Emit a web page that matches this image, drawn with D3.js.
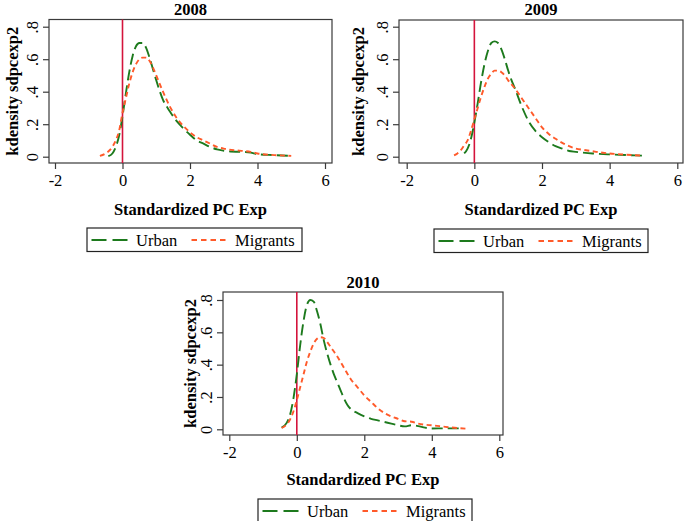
<!DOCTYPE html>
<html><head><meta charset="utf-8">
<script src="https://cdn.jsdelivr.net/npm/d3@7"></script>
<style>
html,body{margin:0;padding:0;background:#fff;}
</style></head>
<body>
<svg id="chart" width="685" height="521" font-family="Liberation Serif"></svg>
<script>
// ---- data ----
const years = ["2008", "2009", "2010"];
const seriesNames = ["Urban", "Migrants"];
const xTicks = [-2, 0, 2, 4, 6];
const yTicks = [0, 0.2, 0.4, 0.6, 0.8];
const yTickLabels = ["0", ".2", ".4", ".6", ".8"];
const xTitle = "Standardized PC Exp";
const yTitle = "kdensity sdpcexp2";

const urban2008X = [-0.42,-0.3,-0.2,-0.1,0,0.1,0.2,0.3,0.4,0.5,0.6,0.7,0.8,0.9,1.0,1.2,1.4,1.6,1.8,2.0,2.2,2.4,2.6,2.8,3.0,3.2,3.5,3.8,4.0,4.5,5.0];
const urban2008Y = [0.003,0.02,0.06,0.13,0.25,0.39,0.52,0.62,0.68,0.70,0.70,0.67,0.61,0.54,0.47,0.35,0.28,0.22,0.175,0.135,0.10,0.08,0.06,0.045,0.037,0.032,0.03,0.025,0.015,0.01,0.005];
const migr2008X = [-0.67,-0.5,-0.3,-0.2,-0.1,0,0.1,0.2,0.3,0.4,0.5,0.6,0.7,0.8,0.9,1.0,1.2,1.4,1.6,1.8,2.0,2.2,2.4,2.6,2.8,3.0,3.3,3.6,3.8,4.0,4.5,5.0];
const migr2008Y = [0.005,0.02,0.06,0.10,0.16,0.27,0.36,0.45,0.52,0.57,0.60,0.61,0.61,0.59,0.55,0.50,0.40,0.31,0.24,0.19,0.15,0.12,0.10,0.08,0.06,0.05,0.04,0.035,0.03,0.02,0.01,0.005];

const urban2009X = [-0.3,-0.2,-0.1,0,0.1,0.2,0.3,0.4,0.5,0.6,0.7,0.8,0.9,1.0,1.1,1.2,1.4,1.6,1.8,2.0,2.2,2.4,2.6,2.8,3.0,3.5,4.0,4.5,5.0];
const urban2009Y = [0.02,0.05,0.11,0.21,0.33,0.46,0.57,0.65,0.70,0.71,0.70,0.66,0.60,0.53,0.47,0.42,0.31,0.22,0.16,0.12,0.09,0.065,0.05,0.035,0.03,0.02,0.014,0.01,0.006];
const migr2009X = [-0.6,-0.5,-0.4,-0.3,-0.2,-0.1,0,0.1,0.2,0.3,0.4,0.5,0.6,0.7,0.8,0.9,1.0,1.2,1.4,1.6,1.8,2.0,2.2,2.4,2.6,2.8,3.0,3.3,3.6,4.0,4.5,5.0];
const migr2009Y = [0.008,0.02,0.04,0.07,0.10,0.16,0.23,0.30,0.37,0.43,0.48,0.51,0.53,0.53,0.52,0.50,0.47,0.42,0.36,0.30,0.24,0.18,0.14,0.11,0.085,0.065,0.05,0.04,0.03,0.02,0.012,0.006];

const urban2010X = [-0.45,-0.3,-0.2,-0.1,0,0.1,0.2,0.3,0.4,0.5,0.6,0.7,0.8,0.9,1.0,1.1,1.2,1.3,1.4,1.5,1.6,1.8,2.0,2.2,2.4,2.6,2.8,3.0,3.2,3.4,3.6,3.8,4.0,4.4,4.8];
const urban2010Y = [0.01,0.04,0.09,0.19,0.34,0.52,0.67,0.77,0.80,0.79,0.73,0.65,0.55,0.47,0.40,0.34,0.29,0.24,0.19,0.15,0.125,0.10,0.08,0.065,0.055,0.045,0.035,0.025,0.018,0.025,0.02,0.01,0.005,0.006,0.006];
const migr2010X = [-0.45,-0.3,-0.2,-0.1,0,0.1,0.2,0.3,0.4,0.5,0.6,0.7,0.8,0.9,1.0,1.2,1.4,1.6,1.8,2.0,2.2,2.4,2.6,2.8,3.0,3.2,3.4,3.6,3.8,4.0,4.4,5.0];
const migr2010Y = [0.008,0.03,0.06,0.11,0.18,0.26,0.34,0.42,0.48,0.53,0.56,0.57,0.565,0.54,0.51,0.45,0.38,0.31,0.26,0.21,0.17,0.13,0.10,0.08,0.065,0.05,0.047,0.035,0.028,0.025,0.015,0.004];

const seriesX = {"2008":[urban2008X, migr2008X], "2009":[urban2009X, migr2009X], "2010":[urban2010X, migr2010X]};
const seriesY = {"2008":[urban2008Y, migr2008Y], "2009":[urban2009Y, migr2009Y], "2010":[urban2010Y, migr2010Y]};

// ---- styles / layout ----
const FONT = "Liberation Serif";
const TEXT = "#000";
const colors = ["#1d7a1d", "#ff5a2a"];
const dashes = ["11,5", "5,3.5"];
const refColor = "#d4143c";
const panels = [
  {left:49,  right:332, top:19.5, bottom:163, x0:55,    x1:325,   y0:156.7, y1:26.7, titleY:15,  xTitleY:215, yTitleX:18,  legTop:228, legLeft:87,  legW:215},
  {left:399, right:683, top:20,   bottom:163, x0:406.7, x1:677.3, y0:156.7, y1:26.7, titleY:15,  xTitleY:215, yTitleX:364, legTop:229, legLeft:434, legW:214},
  {left:223, right:503, top:292,  bottom:435, x0:229.3, x1:499.3, y0:429.3, y1:300,  titleY:288, xTitleY:485, yTitleX:196, legTop:499, legLeft:258, legW:214}
];

const svg = d3.select("#chart");

years.forEach((yr, i) => {
  const p = panels[i];
  const g = svg.append("g");
  const x = d3.scaleLinear().domain([-2, 6]).range([p.x0, p.x1]);
  const y = d3.scaleLinear().domain([0, 0.8]).range([p.y0, p.y1]);
  const cx = (p.left + p.right) / 2;

  g.append("rect").attr("x", p.left).attr("y", p.top)
    .attr("width", p.right - p.left).attr("height", p.bottom - p.top)
    .attr("fill", "none").attr("stroke", "#3a3a3a").attr("stroke-width", 1.2);

  const xAxis = d3.axisBottom(x).tickValues(xTicks).tickSize(6).tickPadding(5).tickFormat(d3.format("d"));
  const xa = g.append("g").attr("transform", `translate(0,${p.bottom})`).call(xAxis)
    .attr("font-family", FONT).attr("font-size", 16.5);
  xa.select(".domain").remove();
  xa.selectAll("line").attr("stroke", "#3a3a3a").attr("stroke-width", 1.2);
  xa.selectAll("text").attr("fill", TEXT)
    .text(d => d < 0 ? "-" + Math.abs(d) : String(d));

  const yAxis = d3.axisLeft(y).tickValues(yTicks).tickSize(6).tickPadding(0).tickFormat((d, k) => yTickLabels[k]);
  const ya = g.append("g").attr("transform", `translate(${p.left},0)`).call(yAxis)
    .attr("font-family", FONT).attr("font-size", 16.5);
  ya.select(".domain").remove();
  ya.selectAll("line").attr("stroke", "#3a3a3a").attr("stroke-width", 1.2);
  ya.selectAll("text").attr("fill", TEXT)
    .attr("x", null).attr("dy", null)
    .attr("text-anchor", "middle")
    .attr("transform", "translate(-11,0) rotate(-90)");

  g.append("line").attr("x1", x(0)).attr("x2", x(0)).attr("y1", p.top).attr("y2", p.bottom)
    .attr("stroke", refColor).attr("stroke-width", 1.6);

  const line = d3.line().x(d => x(d[0])).y(d => y(d[1])).curve(d3.curveMonotoneX);
  seriesNames.forEach((s, k) => {
    const pts = seriesX[yr][k].map((v, j) => [v, seriesY[yr][k][j]]);
    g.append("path").datum(pts).attr("d", line)
      .attr("fill", "none").attr("stroke", colors[k]).attr("stroke-width", 1.9)
      .attr("stroke-dasharray", dashes[k]);
  });

  g.append("text").attr("x", cx).attr("y", p.titleY).attr("text-anchor", "middle").attr("font-family", FONT)
    .attr("font-weight", "bold").attr("font-size", 16.5).attr("fill", TEXT).text(yr);
  g.append("text").attr("x", cx).attr("y", p.xTitleY).attr("text-anchor", "middle").attr("font-family", FONT)
    .attr("font-weight", "bold").attr("font-size", 16.5).attr("fill", TEXT).text(xTitle);
  g.append("text").attr("transform", `translate(${p.yTitleX},${(p.top + p.bottom) / 2}) rotate(-90)`).attr("font-family", FONT)
    .attr("text-anchor", "middle").attr("font-weight", "bold").attr("font-size", 16.5).attr("fill", TEXT).text(yTitle);

  const lg = g.append("g").attr("transform", `translate(${p.legLeft},${p.legTop})`);
  lg.append("rect").attr("width", p.legW).attr("height", 23.5)
    .attr("fill", "#fff").attr("stroke", "#222").attr("stroke-width", 1.2);
  const items = [{sx: 4.5, tx: 49}, {sx: 104.5, tx: 148}];
  seriesNames.forEach((s, k) => {
    lg.append("line").attr("x1", items[k].sx).attr("x2", items[k].sx + 36).attr("y1", 12).attr("y2", 12)
      .attr("stroke", colors[k]).attr("stroke-width", 1.9).attr("stroke-dasharray", k === 0 ? "15,6" : "5.5,4");
    lg.append("text").attr("x", items[k].tx).attr("y", 17.5).attr("font-family", FONT).attr("font-size", 16.5).attr("fill", TEXT).text(s);
  });
});
</script>
</body></html>
